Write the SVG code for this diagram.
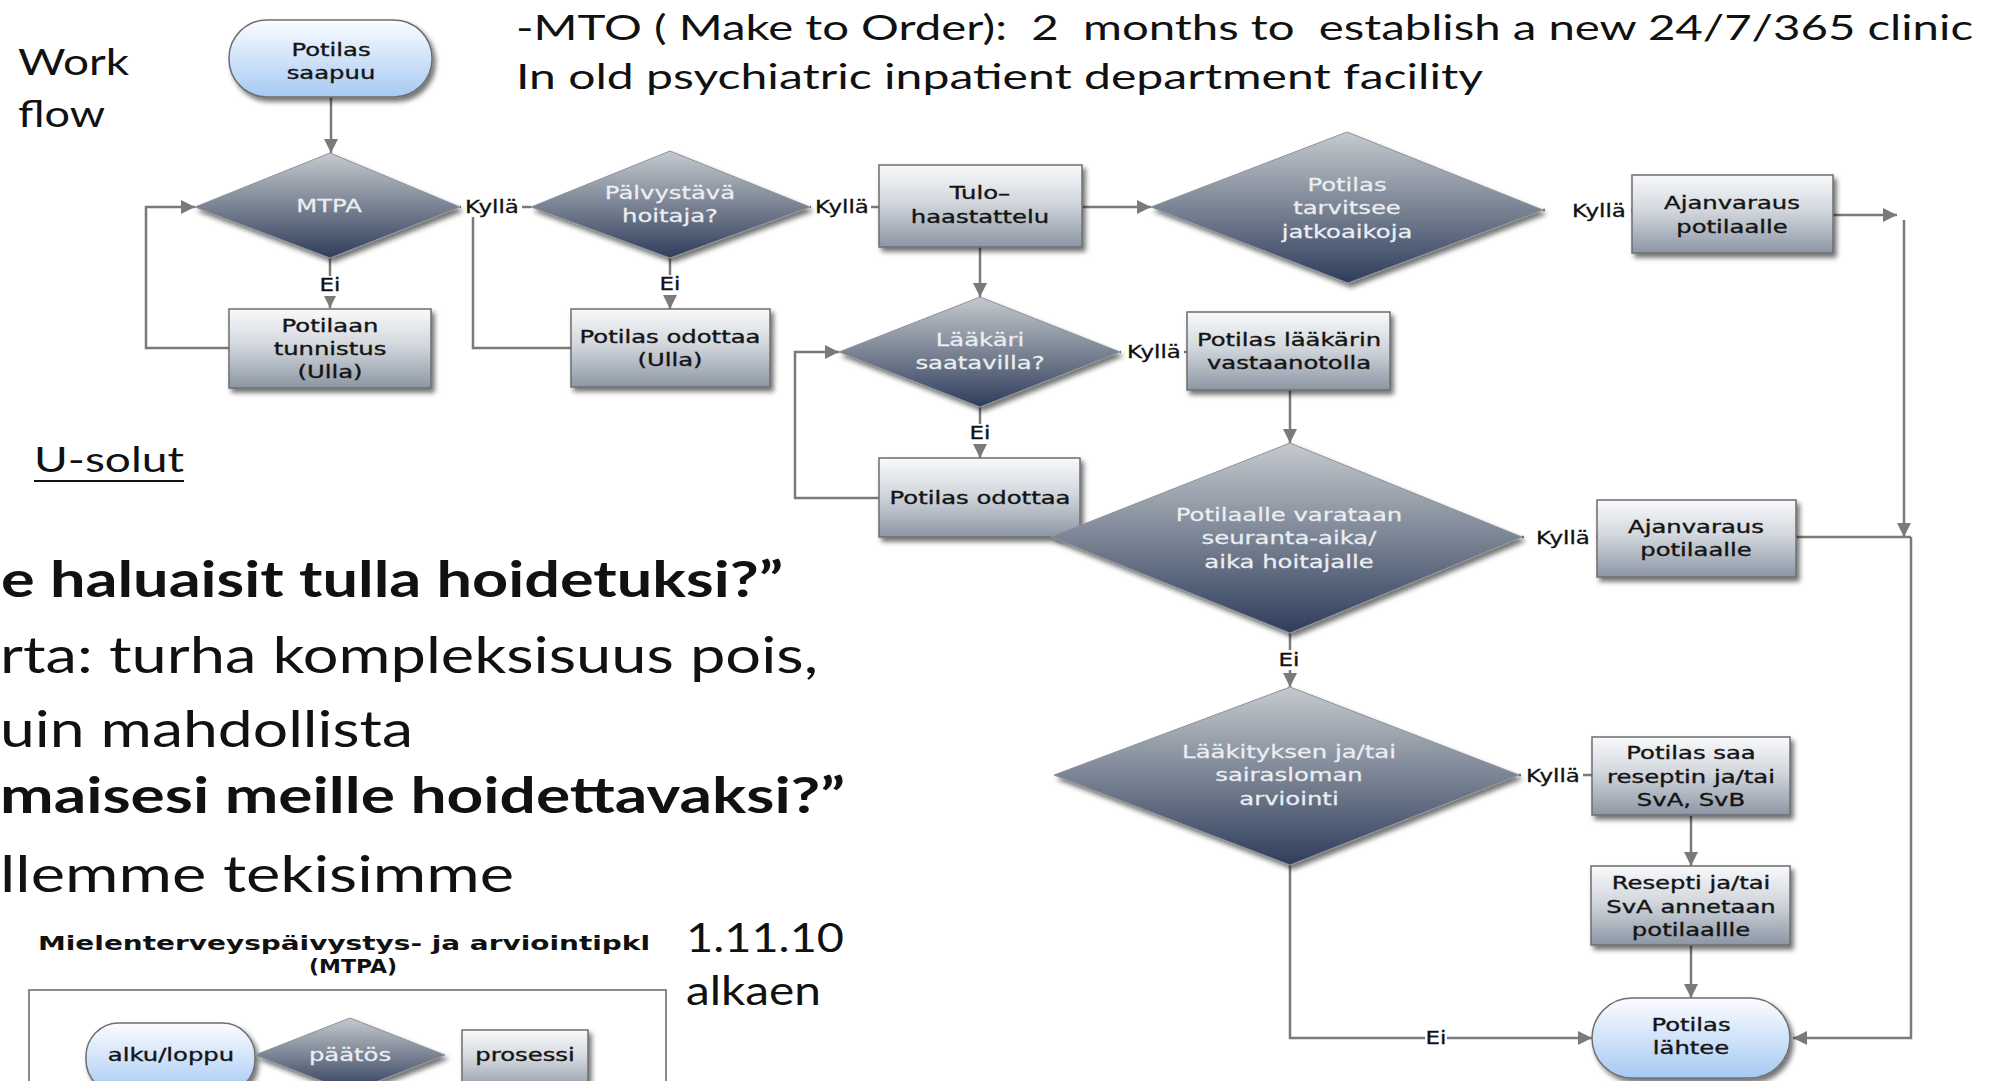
<svg xmlns="http://www.w3.org/2000/svg" width="1999" height="1081" viewBox="0 0 1999 1081">
<defs>
<linearGradient id="gBox" x1="0" y1="0" x2="0" y2="1"><stop offset="0" stop-color="#f8f9fb"/><stop offset="0.45" stop-color="#d3d8de"/><stop offset="1" stop-color="#8c96a4"/></linearGradient>
<linearGradient id="gDia" x1="0" y1="0" x2="0" y2="1"><stop offset="0" stop-color="#c6cacf"/><stop offset="0.5" stop-color="#7a8494"/><stop offset="1" stop-color="#2f3d5b"/></linearGradient>
<linearGradient id="gPill" x1="0" y1="0" x2="0" y2="1"><stop offset="0" stop-color="#fcfdff"/><stop offset="1" stop-color="#a6c9f3"/></linearGradient>
<filter id="sh" x="-10%" y="-10%" width="125%" height="130%"><feDropShadow dx="3" dy="4" stdDeviation="2.5" flood-color="#000" flood-opacity="0.55"/></filter>
<marker id="ar" viewBox="0 0 10 10" refX="10" refY="5" markerUnits="userSpaceOnUse" markerWidth="15" markerHeight="14" orient="auto"><path d="M0,0 L10,5 L0,10 z" fill="#7a7a7a"/></marker>
<style>
.box{fill:url(#gBox);stroke:#6e6e6e;stroke-width:1.5;filter:url(#sh)}
.dia{fill:url(#gDia);stroke:#8d929a;stroke-width:1;filter:url(#sh)}
.pill{fill:url(#gPill);stroke:#6e6e6e;stroke-width:1.5;filter:url(#sh)}
.nl{font-family:"DejaVu Sans",Verdana,sans-serif;font-size:18px;fill:#141414;stroke:#141414;stroke-width:0.35;text-anchor:middle}
.dl{font-family:"DejaVu Sans",Verdana,sans-serif;font-size:18px;fill:#eceef2;stroke:#eceef2;stroke-width:0.25;text-anchor:middle}
.lbl{font-family:"DejaVu Sans",Verdana,sans-serif;font-size:17px;fill:#111;stroke:#111;stroke-width:0.3;text-anchor:middle}
.lbg{fill:#fff}
.conn{fill:none;stroke:#7a7a7a;stroke-width:2.5}
.arr{marker-end:url(#ar)}
.sl{font-family:Lato,"Open Sans",sans-serif;fill:#111}
</style>
</defs>
<rect width="1999" height="1081" fill="#fff"/>

<g id="slide-text">
<text class="sl" x="516" y="40" font-size="35" textLength="1457" lengthAdjust="spacingAndGlyphs" xml:space="preserve">-MTO ( Make to Order):  2  months to  establish a new 24/7/365 clinic</text>
<text class="sl" x="516" y="89" font-size="35" textLength="967" lengthAdjust="spacingAndGlyphs">In old psychiatric inpatient department facility</text>
<text class="sl" x="18" y="75" font-size="36" textLength="111" lengthAdjust="spacingAndGlyphs">Work</text>
<text class="sl" x="18" y="127" font-size="36" textLength="87" lengthAdjust="spacingAndGlyphs">flow</text>
<text class="sl" x="34" y="472" font-size="35" textLength="150" lengthAdjust="spacingAndGlyphs">U-solut</text>
<line x1="34" y1="481" x2="184" y2="481" stroke="#111" stroke-width="2"/>
<text class="sl" x="1" y="597" font-size="50" font-weight="700" textLength="782" lengthAdjust="spacingAndGlyphs">e haluaisit tulla hoidetuksi?”</text>
<text class="sl" x="0" y="673" font-size="50" textLength="818" lengthAdjust="spacingAndGlyphs">rta: turha kompleksisuus pois,</text>
<text class="sl" x="0" y="747" font-size="50" textLength="413" lengthAdjust="spacingAndGlyphs">uin mahdollista</text>
<text class="sl" x="0" y="813" font-size="50" font-weight="700" textLength="845" lengthAdjust="spacingAndGlyphs">maisesi meille hoidettavaksi?”</text>
<text class="sl" x="0" y="892" font-size="50" textLength="514" lengthAdjust="spacingAndGlyphs">llemme tekisimme</text>
<text class="sl" x="686" y="952" font-size="40" textLength="158" lengthAdjust="spacingAndGlyphs">1.11.10</text>
<text class="sl" x="686" y="1005" font-size="40" textLength="135" lengthAdjust="spacingAndGlyphs">alkaen</text>
</g>

<g id="legend">
<text x="38" y="950" font-family="'DejaVu Sans',Verdana,sans-serif" font-size="19" font-weight="700" fill="#111" textLength="612" lengthAdjust="spacingAndGlyphs">Mielenterveyspäivystys- ja arviointipkl</text>
<text x="309" y="973" font-family="'DejaVu Sans',Verdana,sans-serif" font-size="19" font-weight="700" fill="#111" textLength="88" lengthAdjust="spacingAndGlyphs">(MTPA)</text>
<rect x="29" y="990" width="637" height="130" fill="#fff" stroke="#8a8a8a" stroke-width="2"/>
<g id="leg-start"><rect class="pill" x="86" y="1023" width="169" height="70" rx="33"/><text class="nl" transform="matrix(1.35 0 0 1 171 0)"><tspan x="0" y="1061">alku/loppu</tspan></text></g>
<g id="leg-decision"><polygon class="dia" points="350,1018 445,1055 350,1092 255,1055"/><text class="dl" transform="matrix(1.35 0 0 1 350 0)"><tspan x="0" y="1061">päätös</tspan></text></g>
<g id="leg-process"><rect class="box" x="462" y="1030" width="126" height="62"/><text class="nl" transform="matrix(1.35 0 0 1 525 0)"><tspan x="0" y="1061">prosessi</tspan></text></g>
</g>

<g id="connectors">
<path class="conn arr" d="M331,97 V153"/>
<path class="conn arr" d="M330,258 V308"/>
<path class="conn arr" d="M229,348 H146 V207 H195"/>
<path class="conn" d="M460,207 H531"/>
<path class="conn arr" d="M670,258 V309"/>
<path class="conn" d="M571,348 H473 V207"/>
<path class="conn" d="M810,207 H879"/>
<path class="conn arr" d="M1082,207 H1151"/>
<path class="conn arr" d="M980,247 V297"/>
<path class="conn" d="M1120,352 H1187"/>
<path class="conn arr" d="M980,407 V458"/>
<path class="conn arr" d="M879,498 H795 V352 H839"/>
<path class="conn arr" d="M1290,390 V443"/>
<path class="conn" d="M1543,210 H1632"/>
<path class="conn arr" d="M1833,215 H1897"/>
<path class="conn arr" d="M1904,220 V537"/>
<path class="conn" d="M1522,537 H1597"/>
<path class="conn" d="M1796,537 H1911"/>
<path class="conn arr" d="M1911,537 V1038 H1793"/>
<path class="conn arr" d="M1290,633 V687"/>
<path class="conn" d="M1519,775 H1592"/>
<path class="conn arr" d="M1691,815 V866"/>
<path class="conn arr" d="M1691,945 V998"/>
<path class="conn arr" d="M1290,865 V1038 H1592"/>
<g id="labels">
<rect class="lbg" x="461" y="197" width="61" height="20"/><text class="lbl" transform="matrix(1.35 0 0 1 492 0)"><tspan x="0" y="213">Kyllä</tspan></text>
<rect class="lbg" x="319" y="276" width="22" height="20"/><text class="lbl" transform="matrix(1.35 0 0 1 330 0)"><tspan x="0" y="291">Ei</tspan></text>
<rect class="lbg" x="811" y="197" width="60" height="20"/><text class="lbl" transform="matrix(1.35 0 0 1 842 0)"><tspan x="0" y="213">Kyllä</tspan></text>
<rect class="lbg" x="659" y="275" width="22" height="20"/><text class="lbl" transform="matrix(1.35 0 0 1 670 0)"><tspan x="0" y="290">Ei</tspan></text>
<rect class="lbg" x="1121" y="342" width="63" height="20"/><text class="lbl" transform="matrix(1.35 0 0 1 1154 0)"><tspan x="0" y="358">Kyllä</tspan></text>
<rect class="lbg" x="969" y="424" width="22" height="20"/><text class="lbl" transform="matrix(1.35 0 0 1 980 0)"><tspan x="0" y="439">Ei</tspan></text>
<rect class="lbg" x="1545" y="199" width="86" height="23"/><text class="lbl" transform="matrix(1.35 0 0 1 1599 0)"><tspan x="0" y="217">Kyllä</tspan></text>
<rect class="lbg" x="1524" y="527" width="72" height="21"/><text class="lbl" transform="matrix(1.35 0 0 1 1563 0)"><tspan x="0" y="544">Kyllä</tspan></text>
<rect class="lbg" x="1278" y="650" width="22" height="20"/><text class="lbl" transform="matrix(1.35 0 0 1 1289 0)"><tspan x="0" y="666">Ei</tspan></text>
<rect class="lbg" x="1521" y="766" width="62" height="20"/><text class="lbl" transform="matrix(1.35 0 0 1 1553 0)"><tspan x="0" y="782">Kyllä</tspan></text>
<rect class="lbg" x="1425" y="1028" width="22" height="20"/><text class="lbl" transform="matrix(1.35 0 0 1 1436 0)"><tspan x="0" y="1044">Ei</tspan></text>
</g>
</g>

<g id="n-saapuu"><rect class="pill" x="229" y="20" width="203" height="77" rx="38"/><text class="nl" transform="matrix(1.35 0 0 1 331 0)"><tspan x="0" y="56">Potilas</tspan><tspan x="0" y="79">saapuu</tspan></text></g>
<g id="n-mtpa"><polygon class="dia" points="330,153 460,207 330,258 195,207"/><text class="dl" transform="matrix(1.35 0 0 1 329 0)"><tspan x="0" y="212">MTPA</tspan></text></g>
<g id="n-tunnistus"><rect class="box" x="229" y="309" width="202" height="79"/><text class="nl" transform="matrix(1.35 0 0 1 330 0)"><tspan x="0" y="332">Potilaan</tspan><tspan x="0" y="355">tunnistus</tspan><tspan x="0" y="378">(Ulla)</tspan></text></g>
<g id="n-paivystava"><polygon class="dia" points="670,151 810,207 670,258 531,207"/><text class="dl" transform="matrix(1.35 0 0 1 670 0)"><tspan x="0" y="199">Pälvystävä</tspan><tspan x="0" y="222">hoitaja?</tspan></text></g>
<g id="n-odottaa-ulla"><rect class="box" x="571" y="309" width="199" height="78"/><text class="nl" transform="matrix(1.35 0 0 1 670 0)"><tspan x="0" y="343">Potilas odottaa</tspan><tspan x="0" y="366">(Ulla)</tspan></text></g>
<g id="n-tulo"><rect class="box" x="879" y="165" width="203" height="82"/><text class="nl" transform="matrix(1.35 0 0 1 980 0)"><tspan x="0" y="199">Tulo–</tspan><tspan x="0" y="223">haastattelu</tspan></text></g>
<g id="n-tarvitsee"><polygon class="dia" points="1347,132 1543,210 1348,283 1151,207"/><text class="dl" transform="matrix(1.35 0 0 1 1347 0)"><tspan x="0" y="191">Potilas</tspan><tspan x="0" y="214">tarvitsee</tspan><tspan x="0" y="238">jatkoaikoja</tspan></text></g>
<g id="n-ajanvaraus1"><rect class="box" x="1632" y="175" width="201" height="78"/><text class="nl" transform="matrix(1.35 0 0 1 1732 0)"><tspan x="0" y="209">Ajanvaraus</tspan><tspan x="0" y="233">potilaalle</tspan></text></g>
<g id="n-laakari"><polygon class="dia" points="980,297 1120,352 980,407 839,352"/><text class="dl" transform="matrix(1.35 0 0 1 980 0)"><tspan x="0" y="346">Lääkäri</tspan><tspan x="0" y="369">saatavilla?</tspan></text></g>
<g id="n-vastaanotto"><rect class="box" x="1187" y="312" width="203" height="78"/><text class="nl" transform="matrix(1.35 0 0 1 1289 0)"><tspan x="0" y="346">Potilas lääkärin</tspan><tspan x="0" y="369">vastaanotolla</tspan></text></g>
<g id="n-odottaa"><rect class="box" x="879" y="458" width="201" height="79"/><text class="nl" transform="matrix(1.35 0 0 1 980 0)"><tspan x="0" y="504">Potilas odottaa</tspan></text></g>
<g id="n-seuranta"><polygon class="dia" points="1290,443 1522,537 1290,633 1051,537"/><text class="dl" transform="matrix(1.35 0 0 1 1289 0)"><tspan x="0" y="521">Potilaalle varataan</tspan><tspan x="0" y="544">seuranta-aika/</tspan><tspan x="0" y="568">aika hoitajalle</tspan></text></g>
<g id="n-ajanvaraus2"><rect class="box" x="1597" y="500" width="199" height="77"/><text class="nl" transform="matrix(1.35 0 0 1 1696 0)"><tspan x="0" y="533">Ajanvaraus</tspan><tspan x="0" y="556">potilaalle</tspan></text></g>
<g id="n-laakitys"><polygon class="dia" points="1290,687 1519,775 1290,865 1054,775"/><text class="dl" transform="matrix(1.35 0 0 1 1289 0)"><tspan x="0" y="758">Lääkityksen ja/tai</tspan><tspan x="0" y="781">sairasloman</tspan><tspan x="0" y="805">arviointi</tspan></text></g>
<g id="n-resepti-saa"><rect class="box" x="1592" y="737" width="198" height="78"/><text class="nl" transform="matrix(1.35 0 0 1 1691 0)"><tspan x="0" y="759">Potilas saa</tspan><tspan x="0" y="783">reseptin ja/tai</tspan><tspan x="0" y="806">SvA, SvB</tspan></text></g>
<g id="n-resepti-annetaan"><rect class="box" x="1591" y="866" width="199" height="79"/><text class="nl" transform="matrix(1.35 0 0 1 1691 0)"><tspan x="0" y="889">Resepti ja/tai</tspan><tspan x="0" y="913">SvA annetaan</tspan><tspan x="0" y="936">potilaallle</tspan></text></g>
<g id="n-lahtee"><rect class="pill" x="1592" y="998" width="198" height="80" rx="40"/><text class="nl" transform="matrix(1.35 0 0 1 1691 0)"><tspan x="0" y="1031">Potilas</tspan><tspan x="0" y="1054">lähtee</tspan></text></g>
</svg>
